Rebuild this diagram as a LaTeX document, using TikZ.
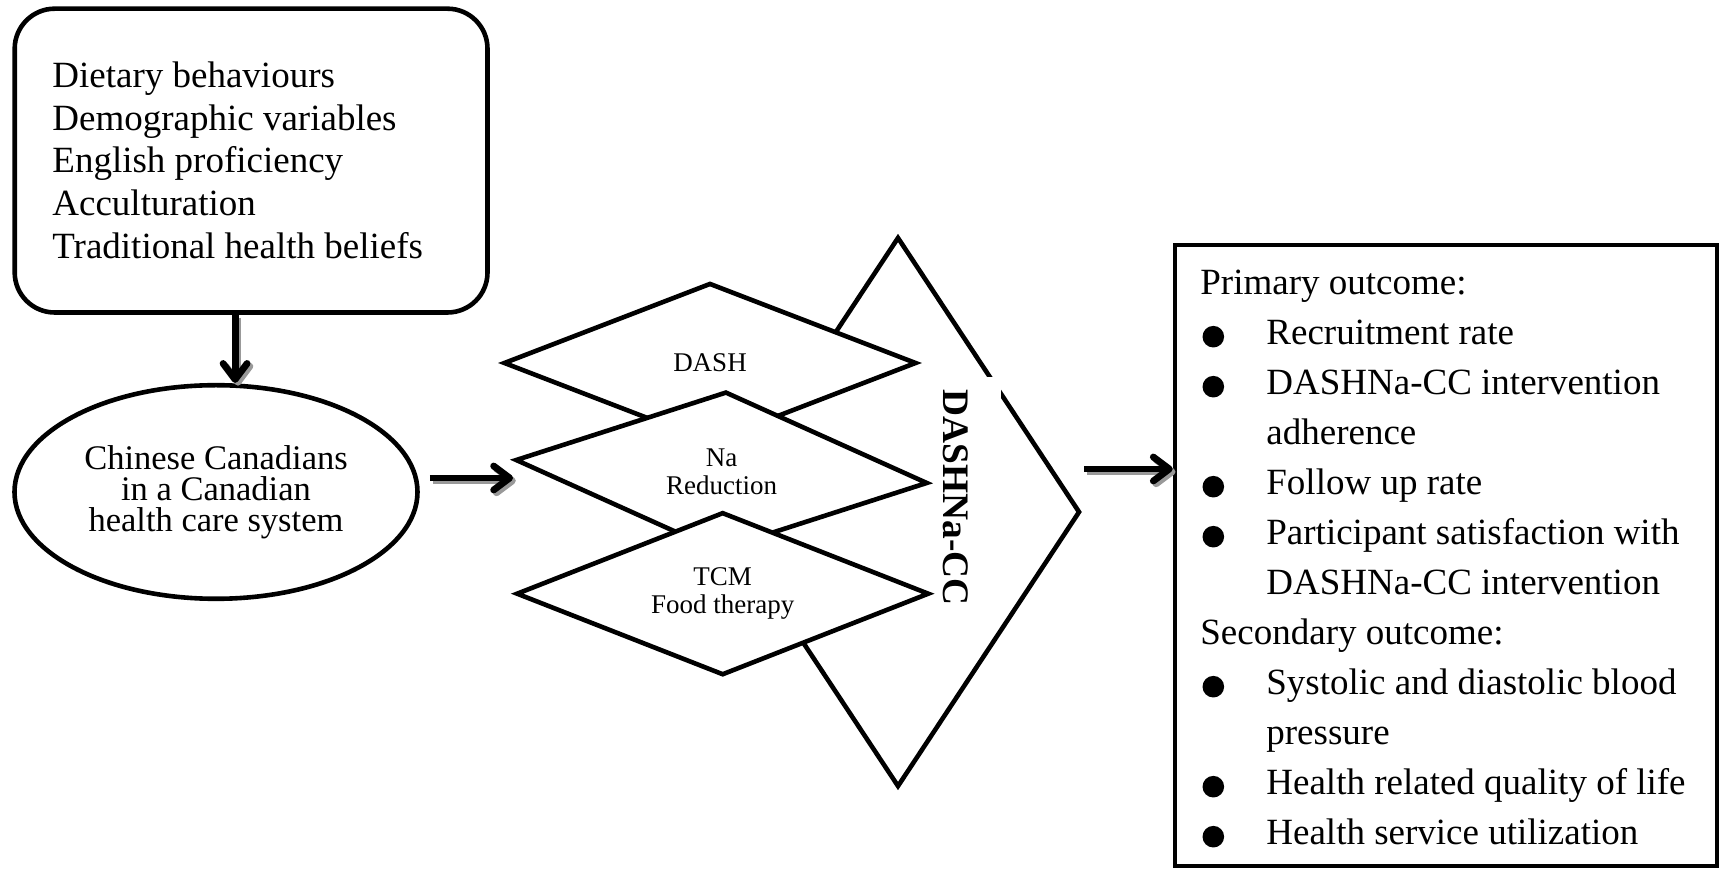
\documentclass[tikz,border=0pt]{standalone}
\usepackage{fontspec}
\setmainfont{Liberation Serif}
\usetikzlibrary{shapes.geometric,calc,arrows.meta}

\tikzset{
  box/.style={draw, line width=2.3pt, inner sep=0pt},
  diam/.style={diamond, draw, fill=white, line width=2.3pt, aspect=2.55,
    minimum width=206.5pt, minimum height=80pt, inner sep=0pt, align=center,
    font=\fontsize{13.5}{14.2}\selectfont},
  arr/.style={line width=3.4pt, -{Straight Barb[length=8pt,width=12pt,round]},
    preaction={draw=black!40, line width=3.4pt,
      -{Straight Barb[length=8pt,width=12pt,round]},
      transform canvas={shift={(1.4pt,-1.4pt)}}}},
  factline/.style={anchor=base west, inner sep=0pt, font=\fontsize{18.5}{22}\selectfont},
  resline/.style={anchor=base west, inner sep=0pt, font=\fontsize{18.5}{22}\selectfont},
}

\begin{document}
\begin{tikzpicture}[x=0.5pt,y=-0.5pt]
        \useasboundingbox (0,0) rectangle (1719,870);

        % 左上の箱
        \node[box, rounded corners=20pt, minimum width=236.4pt, minimum height=151.9pt] (fact) at (251.1,160.6) {};
        \foreach \txt [count=\i from 0] in {Dietary behaviours, Demographic variables,
            English proficiency, Acculturation, Traditional health beliefs}
            \node[factline] (f\i) at (52,{87.3+42.75*\i}) {\txt};

        % 楕円
        \node[box, ellipse, minimum width=201.5pt, minimum height=106.8pt, align=center,
            font=\fontsize{17.25}{15.4}\selectfont] (pop) at (216,492)
            {Chinese Canadians\\in a Canadian\\health care system};
        \draw[arr] ([xshift=-8pt]fact.south) -- ([xshift=-8pt]fact.south |- pop.north);

        % 大きい菱形 (DASHNa-CC)
        \node[diamond, draw, line width=2.3pt, aspect=0.66, minimum width=182pt,
            minimum height=275pt] (pkg) at (898,512) {};
        \node[rotate=-90, fill=white, inner sep=0pt, minimum width=120.5pt, minimum height=45pt,
            font=\bfseries\fontsize{18.7}{20}\selectfont] (pkglbl) at (956,497.5) {DASHNa-CC};

        % 三つの菱形
        \node[diam] (dash) at (710,363) {DASH};
        \node[diam, rotate=-3.2] (na) at (721.5,471.5) {};
        \node[inner sep=0pt, align=center, font=\fontsize{13.5}{14.2}\selectfont] (nalbl) at (na.center) {Na\\Reduction};
        \node[diam, minimum height=81.5pt] (tcm) at (722.7,593.7) {TCM\\Food therapy};

        \draw[arr] ($(pop.east)+(10,-14)$) coordinate (a1) -- (a1 -| na.west);

        % 右の箱
        \node[box, minimum width=271pt, minimum height=310.5pt] (out) at (1446,555.5) {};
        \draw[arr] ($(pkg.east)+(2,-43)$) coordinate (a2) -- (a2 -| out.west);

        \foreach \txt/\lvl/\hasb [count=\i from 0] in {Primary outcome:/0/0, Recruitment rate/1/1,
            DASHNa-CC intervention/1/1, adherence/1/0, Follow up rate/1/1,
            Participant satisfaction with/1/1, DASHNa-CC intervention/1/0, Secondary outcome:/0/0,
            Systolic and diastolic blood/1/1, pressure/1/0, Health related quality of life/1/1,
            Health service utilization/1/1}
        {
            \node[resline] (o\i) at ({1200+66*\lvl},{295+50*\i}) {\txt};
            \ifnum\hasb=1 \fill ($(o\i.base west)+(-52.7,-8.3)$) circle (5.4pt); \fi
        }

    \end{tikzpicture}
\end{document}
